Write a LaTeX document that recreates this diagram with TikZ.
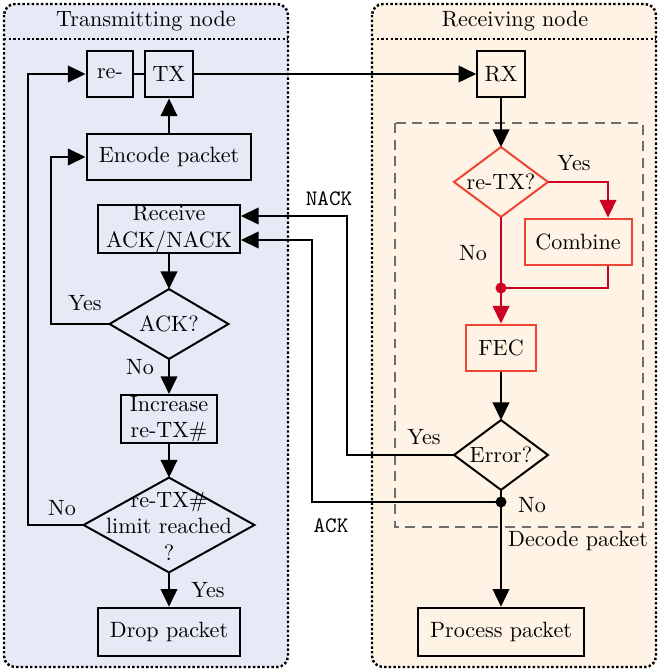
\documentclass[tikz,border=0pt]{standalone}
\usetikzlibrary{arrows.meta,shapes.geometric}
\definecolor{txbg}{RGB}{230,234,246}
\definecolor{rxbg}{RGB}{254,243,228}
\definecolor{boxred}{RGB}{238,68,52}
\definecolor{linered}{RGB}{204,0,34}
\definecolor{dashgray}{RGB}{110,110,110}
\begin{document}
\begin{tikzpicture}[x=0.0159cm,y=-0.0159cm,
  box/.style={draw, line width=0.9pt, inner xsep=3.33pt, inner ysep=0pt, minimum height=21.2pt, align=center},
  redbox/.style={box, draw=boxred},
  dia/.style={draw, diamond, line width=0.9pt, inner sep=0pt, outer sep=0pt},
  arr/.style={line width=0.9pt, -{Triangle[length=8pt,width=7.5pt]}},
  ln/.style={line width=0.9pt},
  redarr/.style={arr, color=linered},
  redln/.style={ln, color=linered},
  lbl/.style={inner sep=0pt},
  panel/.style={draw, densely dotted, line width=1.1pt, rounded corners=5pt},
  sep/.style={draw, densely dotted, line width=1.1pt}]
\useasboundingbox (0,0) rectangle (664,672);
% panels
\draw[panel, fill=txbg] (4,4) rectangle (288,667);
\draw[sep] (4,39) -- (288,39);
\node[lbl] (ttx) at (146,21) {Transmitting node};
\draw[panel, fill=rxbg] (372,4) rectangle (656,667);
\draw[sep] (372,39) -- (656,39);
\node[lbl] (trx) at (515,21) {Receiving node};
% decode packet region
\draw[dashgray, dashed, dash pattern=on 4.5pt off 3pt, line width=0.8pt] (395,123) rectangle (643,527);
\node[lbl] (ldec) at (578,541) {Decode packet};
% transmitting side
\node[box, minimum width=21.2pt] (re) at (110,74) {re-};
\node[box, minimum width=21.2pt] (TX) at (169,74) {TX};
\node[box, minimum width=74.6pt] (enc) at (169,157) {Encode packet};
\node[box, minimum width=64.2pt] (recv) at (169,229) {Receive\\ACK/NACK};
\node[dia, minimum width=53.8pt, minimum height=31.6pt] (dack) at (169,324) {};
\node[lbl] (tack) at (169,324) {ACK?};
\node[box, minimum width=43.4pt, minimum height=21.7pt] (inc) at (169,419) {Increase\\re-TX\#};
\node[dia, minimum width=77.3pt, minimum height=42.9pt] (dlim) at (169,525) {};
\node[lbl, align=center] (tlim) at (169,526) {re-TX\#\\limit reached\\?};
\node[box, minimum width=64.6pt, minimum height=22pt] (drop) at (169,632) {Drop packet};
% receiving side
\node[box, minimum width=21.2pt] (RX) at (501,74) {RX};
\node[dia, draw=boxred, minimum width=42.5pt, minimum height=31.6pt] (dre) at (501,182) {};
\node[lbl] (tre) at (501,182) {re-TX?};
\node[redbox, minimum width=48.4pt] (comb) at (578,242) {Combine};
\node[redbox, minimum width=32.1pt] (fec) at (501,348) {FEC};
\node[dia, minimum width=42.5pt, minimum height=31.6pt] (derr) at (501,455) {};
\node[lbl] (terr) at (501,455) {Error?};
\node[box, minimum width=75.5pt, minimum height=22pt] (proc) at (501,632) {Process packet};
% coordinates
\coordinate (lx) at (28,525);
\coordinate (ly) at (51,324);
\coordinate (cy) at (608,182);
\coordinate (dot1) at (501,288);
\coordinate (dot2) at (501,502);
\coordinate (nk) at (347,216);
\coordinate (ak) at (312,240);
% connectors transmitting
\draw[ln] (re) -- (TX);
\draw[arr] (TX) -- (RX);
\draw[arr] (enc) -- (TX);
\draw[arr] (recv) -- (dack);
\draw[arr] (dack) -- (inc);
\draw[arr] (inc) -- (dlim);
\draw[arr] (dlim) -- (drop);
\draw[arr] (dlim.west) -- (lx) |- (re.west);
\draw[arr] (dack.west) -- (ly) |- (enc.west);
% connectors receiving
\draw[arr] (RX) -- (dre);
\draw[redarr] (dre.east) -- (cy) -- (cy |- comb.north);
\draw[redln] (cy |- comb.south) |- (dot1);
\draw[redln] (dre.south) -- (dot1);
\draw[redarr] (dot1) -- (fec);
\fill[linered] (dot1) circle (2.5pt);
\draw[arr] (fec) -- (derr);
\draw[arr] (derr) -- (proc);
\fill (dot2) circle (2.5pt);
\draw[arr] (derr.west) -| (nk) -- (nk -| recv.east);
\draw[arr] (dot2) -| (ak) -- (ak -| recv.east);
% labels
\node[lbl] (l1) at (85,303) {Yes};
\node[lbl] (l2) at (140,367) {No};
\node[lbl] (l3) at (62,508) {No};
\node[lbl] (l4) at (208,590) {Yes};
\node[lbl] (l5) at (574,163) {Yes};
\node[lbl] (l6) at (473,253) {No};
\node[lbl] (l7) at (424,437) {Yes};
\node[lbl] (l8) at (532,505) {No};
\node[lbl] (lnack) at (329,199) {\texttt{NACK}};
\node[lbl] (lack) at (331,526) {\texttt{ACK}};
\end{tikzpicture}
\end{document}
